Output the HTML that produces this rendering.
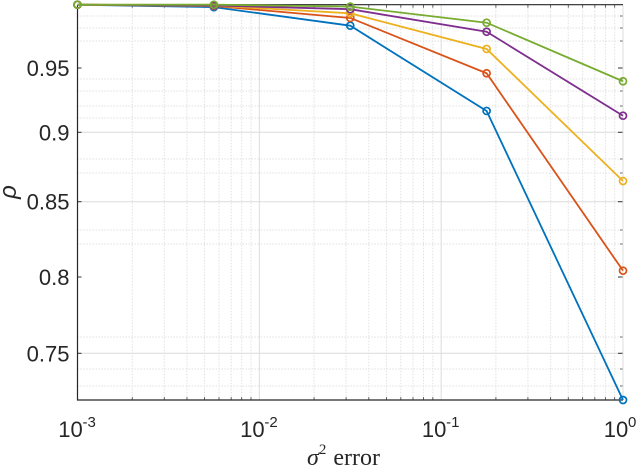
<!DOCTYPE html>
<html><head><meta charset="utf-8"><style>
body{margin:0;background:#fff}
svg text{font-family:"Liberation Sans",Arial,sans-serif;fill:#262626}
</style></head><body>
<svg id="chart" width="640" height="466" xmlns="http://www.w3.org/2000/svg"></svg>
<script>
const xLogValues = [-3, -2.25, -1.5, -0.75, 0];
const seriesBlue   = [0.9992, 0.9973, 0.9829, 0.9166, 0.7194];
const seriesRed    = [0.9992, 0.9982, 0.9889, 0.9459, 0.8042];
const seriesYellow = [0.9992, 0.9985, 0.9925, 0.9648, 0.8649];
const seriesPurple = [0.9992, 0.9986, 0.9957, 0.9782, 0.9129];
const seriesGreen  = [0.9992, 0.9992, 0.9977, 0.9852, 0.9397];
const yTicks = [0.75, 0.8, 0.85, 0.9, 0.95];
const yTickLabels = ["0.75", "0.8", "0.85", "0.9", "0.95"];
const xDecades = [-3, -2, -1, 0];

const L=77.5,R=623,T=4.7,B=400;
// axis calibration (piecewise, matching the reference's scaling)
const calV=[0.7194,0.75,0.8,0.85,0.9,0.95,0.9992];
const calP=[400,353.3,277,201.7,132.3,68,4.7];
const xs=v=>L+(v+3)/3*(R-L);
function ys(v){for(let i=0;i<calV.length-1;i++){if(v<=calV[i+1]||i===calV.length-2){const t=(v-calV[i])/(calV[i+1]-calV[i]);return calP[i]+t*(calP[i+1]-calP[i]);}}}
const svg=document.getElementById('chart');
const NS='http://www.w3.org/2000/svg';
function mk(tag,attrs,parent){const e=document.createElementNS(NS,tag);for(const k in attrs)e.setAttribute(k,attrs[k]);(parent||svg).appendChild(e);return e;}

const grid=mk('g',{});


const minorY=[16,28,41,79,91,106,118,159,173,230,244,337,369,386];
minorY.forEach(y=>{mk('line',{x1:L,x2:R,y1:y,y2:y,stroke:'#e0e0e0','stroke-dasharray':'1.5,1.5','stroke-width':1},grid);mk('line',{x1:R,x2:R-3,y1:y,y2:y,stroke:'#444','stroke-width':0.8},grid);});
for(let d=-3;d<0;d++){for(let m=2;m<10;m++){const x=xs(d+Math.log10(m));mk('line',{x1:x,x2:x,y1:T,y2:B,stroke:'#e0e0e0','stroke-dasharray':'1.5,1.5','stroke-width':1},grid);mk('line',{x1:x,x2:x,y1:B,y2:B-3,stroke:'#444','stroke-width':0.8},grid);mk('line',{x1:x,x2:x,y1:T,y2:T+3,stroke:'#444','stroke-width':0.8},grid);}}
yTicks.forEach((v,i)=>{const y=ys(v);
 if(v!==0.8&&v!==0.95) mk('line',{x1:L,x2:R,y1:y,y2:y,stroke:'#dcdcdc','stroke-width':1},grid);
 mk('line',{x1:R,x2:R-5,y1:y,y2:y,stroke:'#333'},grid);mk('line',{x1:L,x2:L+4,y1:y,y2:y,stroke:'#333'},grid);
 const t=mk('text',{x:L-8,y:y+8,'text-anchor':'end','font-size':22});t.textContent=yTickLabels[i];
 
 });
xDecades.forEach(d=>{const x=xs(d);mk('line',{x1:x,x2:x,y1:T,y2:B,stroke:'#dcdcdc','stroke-width':1},grid);
 const t=mk('text',{x:x-7,y:437,'text-anchor':'middle','font-size':22});t.textContent='10';
 
 
 const s=mk('text',{x:x+5,y:427,'text-anchor':'start','font-size':15});s.textContent=String(d);
 
 });
const ax=mk('path',{d:`M${L},${T}V${B}H${R}`,fill:'none',stroke:'#262626','stroke-width':1.2});


mk('line',{x1:L,x2:R,y1:T,y2:T,stroke:'#262626','stroke-width':1.2});

const series=[[seriesBlue,'#0072bd','blue'],[seriesRed,'#d95319','red'],[seriesYellow,'#edb120','yellow'],[seriesPurple,'#7e2f8e','purple'],[seriesGreen,'#77ac30','green']];
series.forEach(([vals,c,n])=>{const g=mk('g',{});
 
 
 mk('polyline',{points:vals.map((v,i)=>xs(xLogValues[i])+','+ys(v)).join(' '),fill:'none',stroke:c,'stroke-width':1.8},g);
 vals.forEach((v,i)=>{const p=mk('circle',{cx:xs(xLogValues[i]),cy:ys(v),r:3.5,fill:'none',stroke:c,'stroke-width':1.7},g);
 
 });
});
const xl=mk('text',{x:307,y:465,'font-size':24,'font-family':'Liberation Serif,serif'});


xl.innerHTML='<tspan font-style="italic" font-family="Liberation Serif,serif">σ</tspan><tspan font-size="15" dy="-11" font-family="Liberation Serif,serif">2</tspan><tspan dy="11" dx="7" font-family="Liberation Serif,serif">error</tspan>';
const yl=mk('text',{x:0,y:0,'font-size':24,'font-style':'italic','font-family':'Liberation Serif,serif',transform:'translate(16,192) rotate(-90)','text-anchor':'middle'});
yl.textContent='ρ';


</script>
</body></html>
